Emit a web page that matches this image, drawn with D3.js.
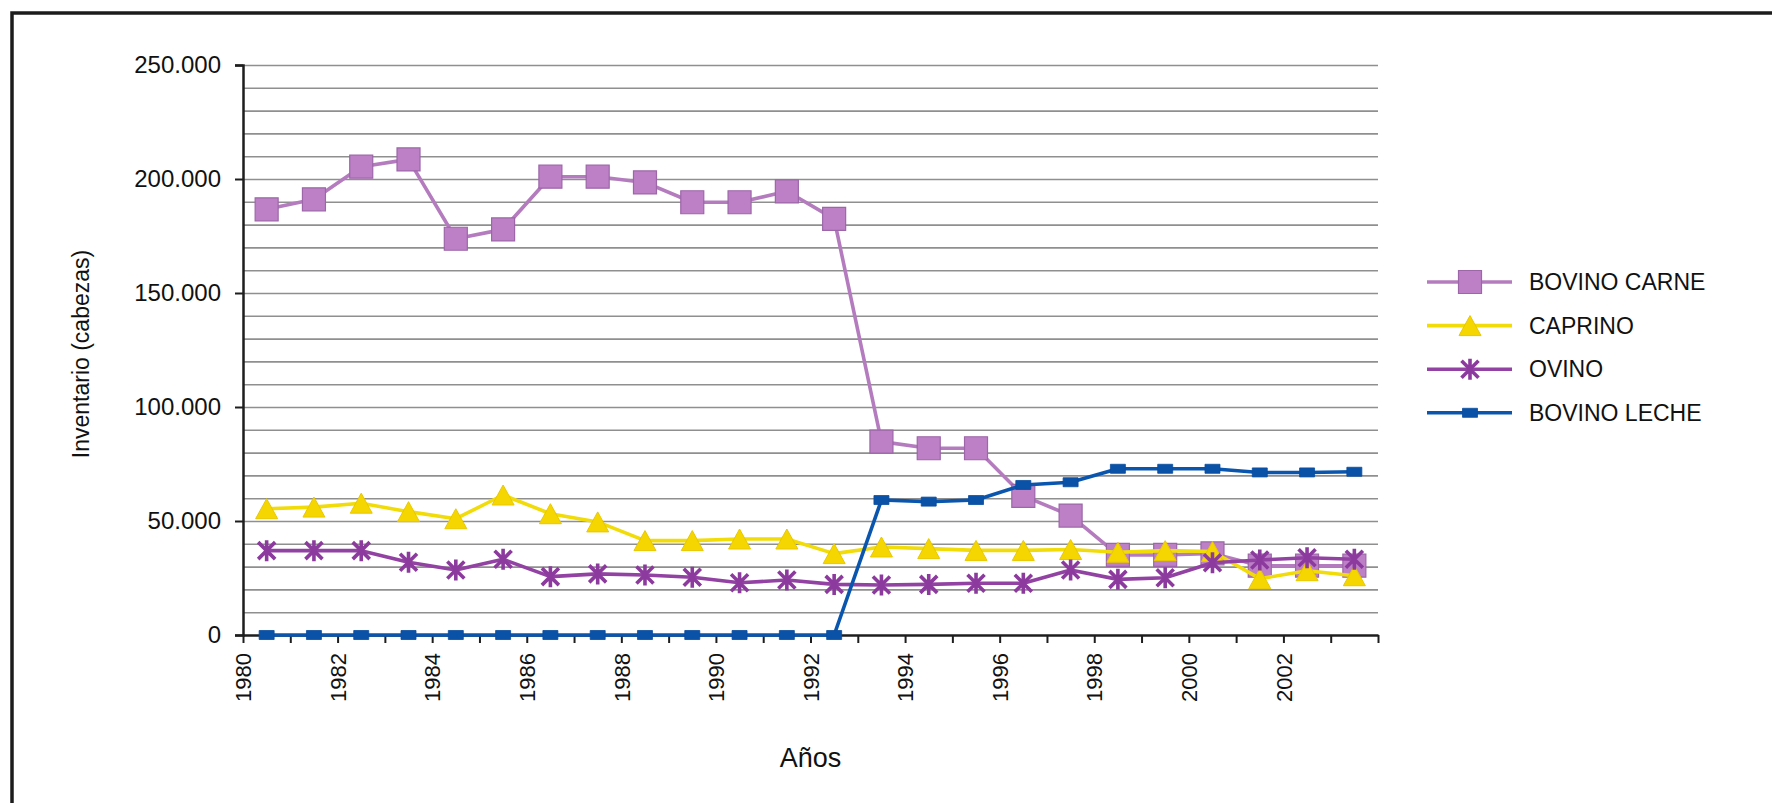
<!DOCTYPE html>
<html lang="es">
<head>
<meta charset="utf-8">
<title>Inventario ganadero 1980-2003</title>
<script src="https://cdn.jsdelivr.net/npm/d3@7"></script>
<style>
  html, body { margin: 0; padding: 0; background: #ffffff; overflow: hidden; }
  svg { display: block; }
  text { font-family: "Liberation Sans", Arial, Helvetica, sans-serif; fill: #111; }
</style>
</head>
<body>
<svg id="chart" width="1772" height="803"></svg>
<script>
// ---- data -------------------------------------------------------------
const years = [1980, 1981, 1982, 1983, 1984, 1985, 1986, 1987, 1988, 1989, 1990, 1991,
               1992, 1993, 1994, 1995, 1996, 1997, 1998, 1999, 2000, 2001, 2002, 2003];

const bovinoCarne = [186700, 191100, 205400, 208600, 173800, 177900, 201000, 201000,
                     198500, 189800, 189800, 194600, 182500, 84800, 81900, 81900,
                     61000, 52400, 35100, 35100, 35800, 30400, 30400, 30400];

const caprino = [55400, 56100, 57800, 54100, 51000, 61400, 53200, 49600,
                 41400, 41400, 42100, 42100, 35700, 38600, 37900, 37100,
                 37100, 37500, 36300, 37000, 36600, 24700, 28200, 26000];

const ovino = [37000, 37000, 37000, 31900, 28500, 33200, 25600, 26800,
               26300, 25300, 22900, 24100, 22200, 21900, 22200, 22700,
               22700, 28500, 24400, 25100, 31700, 32900, 33900, 33200];

const bovinoLeche = [0, 0, 0, 0, 0, 0, 0, 0, 0, 0, 0, 0, 0,
                     59200, 58500, 59200, 65800, 67000, 72900, 72900, 72900,
                     71300, 71300, 71600];

const seriesNames = ["BOVINO CARNE", "CAPRINO", "OVINO", "BOVINO LECHE"];

const yTickValues = [0, 50000, 100000, 150000, 200000, 250000];
const yGridValues = [10000, 20000, 30000, 40000, 50000, 60000, 70000, 80000, 90000, 100000,
                     110000, 120000, 130000, 140000, 150000, 160000, 170000, 180000, 190000,
                     200000, 210000, 220000, 230000, 240000, 250000];
const xTickValues = [1980, 1981, 1982, 1983, 1984, 1985, 1986, 1987, 1988, 1989, 1990, 1991,
                     1992, 1993, 1994, 1995, 1996, 1997, 1998, 1999, 2000, 2001, 2002, 2003, 2004];
const xLabelYears = [1980, 1982, 1984, 1986, 1988, 1990, 1992, 1994, 1996, 1998, 2000, 2002];

// ---- layout -----------------------------------------------------------
const plot = { left: 243, right: 1378, top: 65, bottom: 635 };

const svg = d3.select("#chart");

// outer frame (continues past the right and bottom edges)
svg.append("rect")
  .attr("x", 12).attr("y", 13)
  .attr("width", 3000).attr("height", 1500)
  .attr("fill", "none")
  .attr("stroke", "#1c1c1c")
  .attr("stroke-width", 3.5);

const x = d3.scaleLinear().domain([1980, 2004]).range([plot.left, plot.right]);
const y = d3.scaleLinear().domain([0, 250000]).range([plot.bottom, plot.top]);

const esLocale = d3.formatLocale({ decimal: ",", thousands: ".", grouping: [3], currency: ["", ""] });
const fmt = esLocale.format(",");

// horizontal gridlines
svg.append("g")
  .attr("class", "grid")
  .attr("transform", `translate(${plot.left},0)`)
  .call(d3.axisLeft(y).tickValues(yGridValues).tickSize(-(plot.right - plot.left)).tickFormat(""))
  .call(g => g.select(".domain").remove())
  .call(g => g.selectAll(".tick line").attr("stroke", "#8f8f8f").attr("stroke-width", 1.6));

// y axis
svg.append("g")
  .attr("transform", `translate(${plot.left},0)`)
  .call(d3.axisLeft(y).tickValues(yTickValues).tickSize(8).tickPadding(14).tickFormat(fmt))
  .call(g => g.select(".domain").attr("stroke", "#1e1e1e").attr("stroke-width", 2.5))
  .call(g => g.selectAll(".tick line").attr("stroke", "#1e1e1e").attr("stroke-width", 2))
  .call(g => g.selectAll(".tick text")
    .style("font-family", '"Liberation Sans", Arial, sans-serif')
    .style("font-size", "24px").attr("fill", "#111"));

// x axis
svg.append("g")
  .attr("transform", `translate(0,${plot.bottom})`)
  .call(d3.axisBottom(x).tickValues(xTickValues).tickSize(8).tickSizeOuter(0)
    .tickFormat(d => xLabelYears.includes(d) ? String(d) : ""))
  .call(g => g.select(".domain").attr("stroke", "#1e1e1e").attr("stroke-width", 2.5))
  .call(g => g.selectAll(".tick line").attr("stroke", "#1e1e1e").attr("stroke-width", 2))
  .call(g => g.selectAll(".tick text")
    .style("font-family", '"Liberation Sans", Arial, sans-serif')
    .style("font-size", "22px").attr("fill", "#111")
    .attr("transform", "rotate(-90)")
    .attr("text-anchor", "end")
    .attr("x", -18).attr("y", 0).attr("dy", "0.35em"));

// axis titles
svg.append("text")
  .attr("x", (plot.left + plot.right) / 2).attr("y", 767)
  .attr("text-anchor", "middle")
  .style("font-size", "27px")
  .text("Años");

svg.append("text")
  .attr("transform", `translate(81,${(plot.top + plot.bottom) / 2 + 4}) rotate(-90)`)
  .attr("text-anchor", "middle")
  .attr("dy", "0.35em")
  .style("font-size", "23px")
  .text("Inventario (cabezas)");

// ---- series -----------------------------------------------------------
const markers = {
  square:   "M-11.5,-11.5H11.5V11.5H-11.5Z",
  triangle: "M0,-10L11,10H-11Z",
  star:     "M-8.5,-8.5L8.5,8.5M8.5,-8.5L-8.5,8.5M0,-10.5V10.5",
  rect:     "M-7.5,-4.5H7.5V4.5H-7.5Z"
};

const series = [
  { name: seriesNames[0], values: bovinoCarne, line: "#b47cbe", fill: "#bd80c7", stroke: "#9c66a8", marker: "square", sw: 1.2 },
  { name: seriesNames[1], values: caprino,     line: "#f1dc0a", fill: "#f5d600", stroke: "#e8c800", marker: "triangle", sw: 1 },
  { name: seriesNames[2], values: ovino,       line: "#9242a2", fill: "none",    stroke: "#8c3a9e", marker: "star", sw: 3.6 },
  { name: seriesNames[3], values: bovinoLeche, line: "#0a56ae", fill: "#0a52a8", stroke: "#0a4c9e", marker: "rect", sw: 0.8 }
];

const line = d3.line()
  .x((d, i) => x(years[i] + 0.5))
  .y(d => y(d));

series.forEach(s => {
  const g = svg.append("g").attr("class", "series");
  g.append("path")
    .datum(s.values)
    .attr("d", line)
    .attr("fill", "none")
    .attr("stroke", s.line)
    .attr("stroke-width", 3.6)
    .attr("stroke-linejoin", "round");
  g.selectAll("path.mk")
    .data(s.values)
    .join("path")
    .attr("class", "mk")
    .attr("transform", (d, i) => `translate(${x(years[i] + 0.5)},${y(d)})`)
    .attr("d", markers[s.marker])
    .attr("fill", s.fill)
    .attr("stroke", s.stroke)
    .attr("stroke-width", s.sw);
});

// ---- legend -----------------------------------------------------------
const legend = svg.append("g").attr("transform", "translate(1427,282)");
series.forEach((s, i) => {
  const row = legend.append("g").attr("transform", `translate(0,${i * 43.6})`);
  row.append("line")
    .attr("x1", 0).attr("x2", 85).attr("y1", 0).attr("y2", 0)
    .attr("stroke", s.line).attr("stroke-width", 3.6);
  row.append("path")
    .attr("transform", "translate(43,0)")
    .attr("d", markers[s.marker])
    .attr("fill", s.fill)
    .attr("stroke", s.stroke)
    .attr("stroke-width", s.sw);
  row.append("text")
    .attr("x", 102).attr("y", 0).attr("dy", "0.36em")
    .style("font-size", "23px")
    .text(s.name);
});
</script>
</body>
</html>
